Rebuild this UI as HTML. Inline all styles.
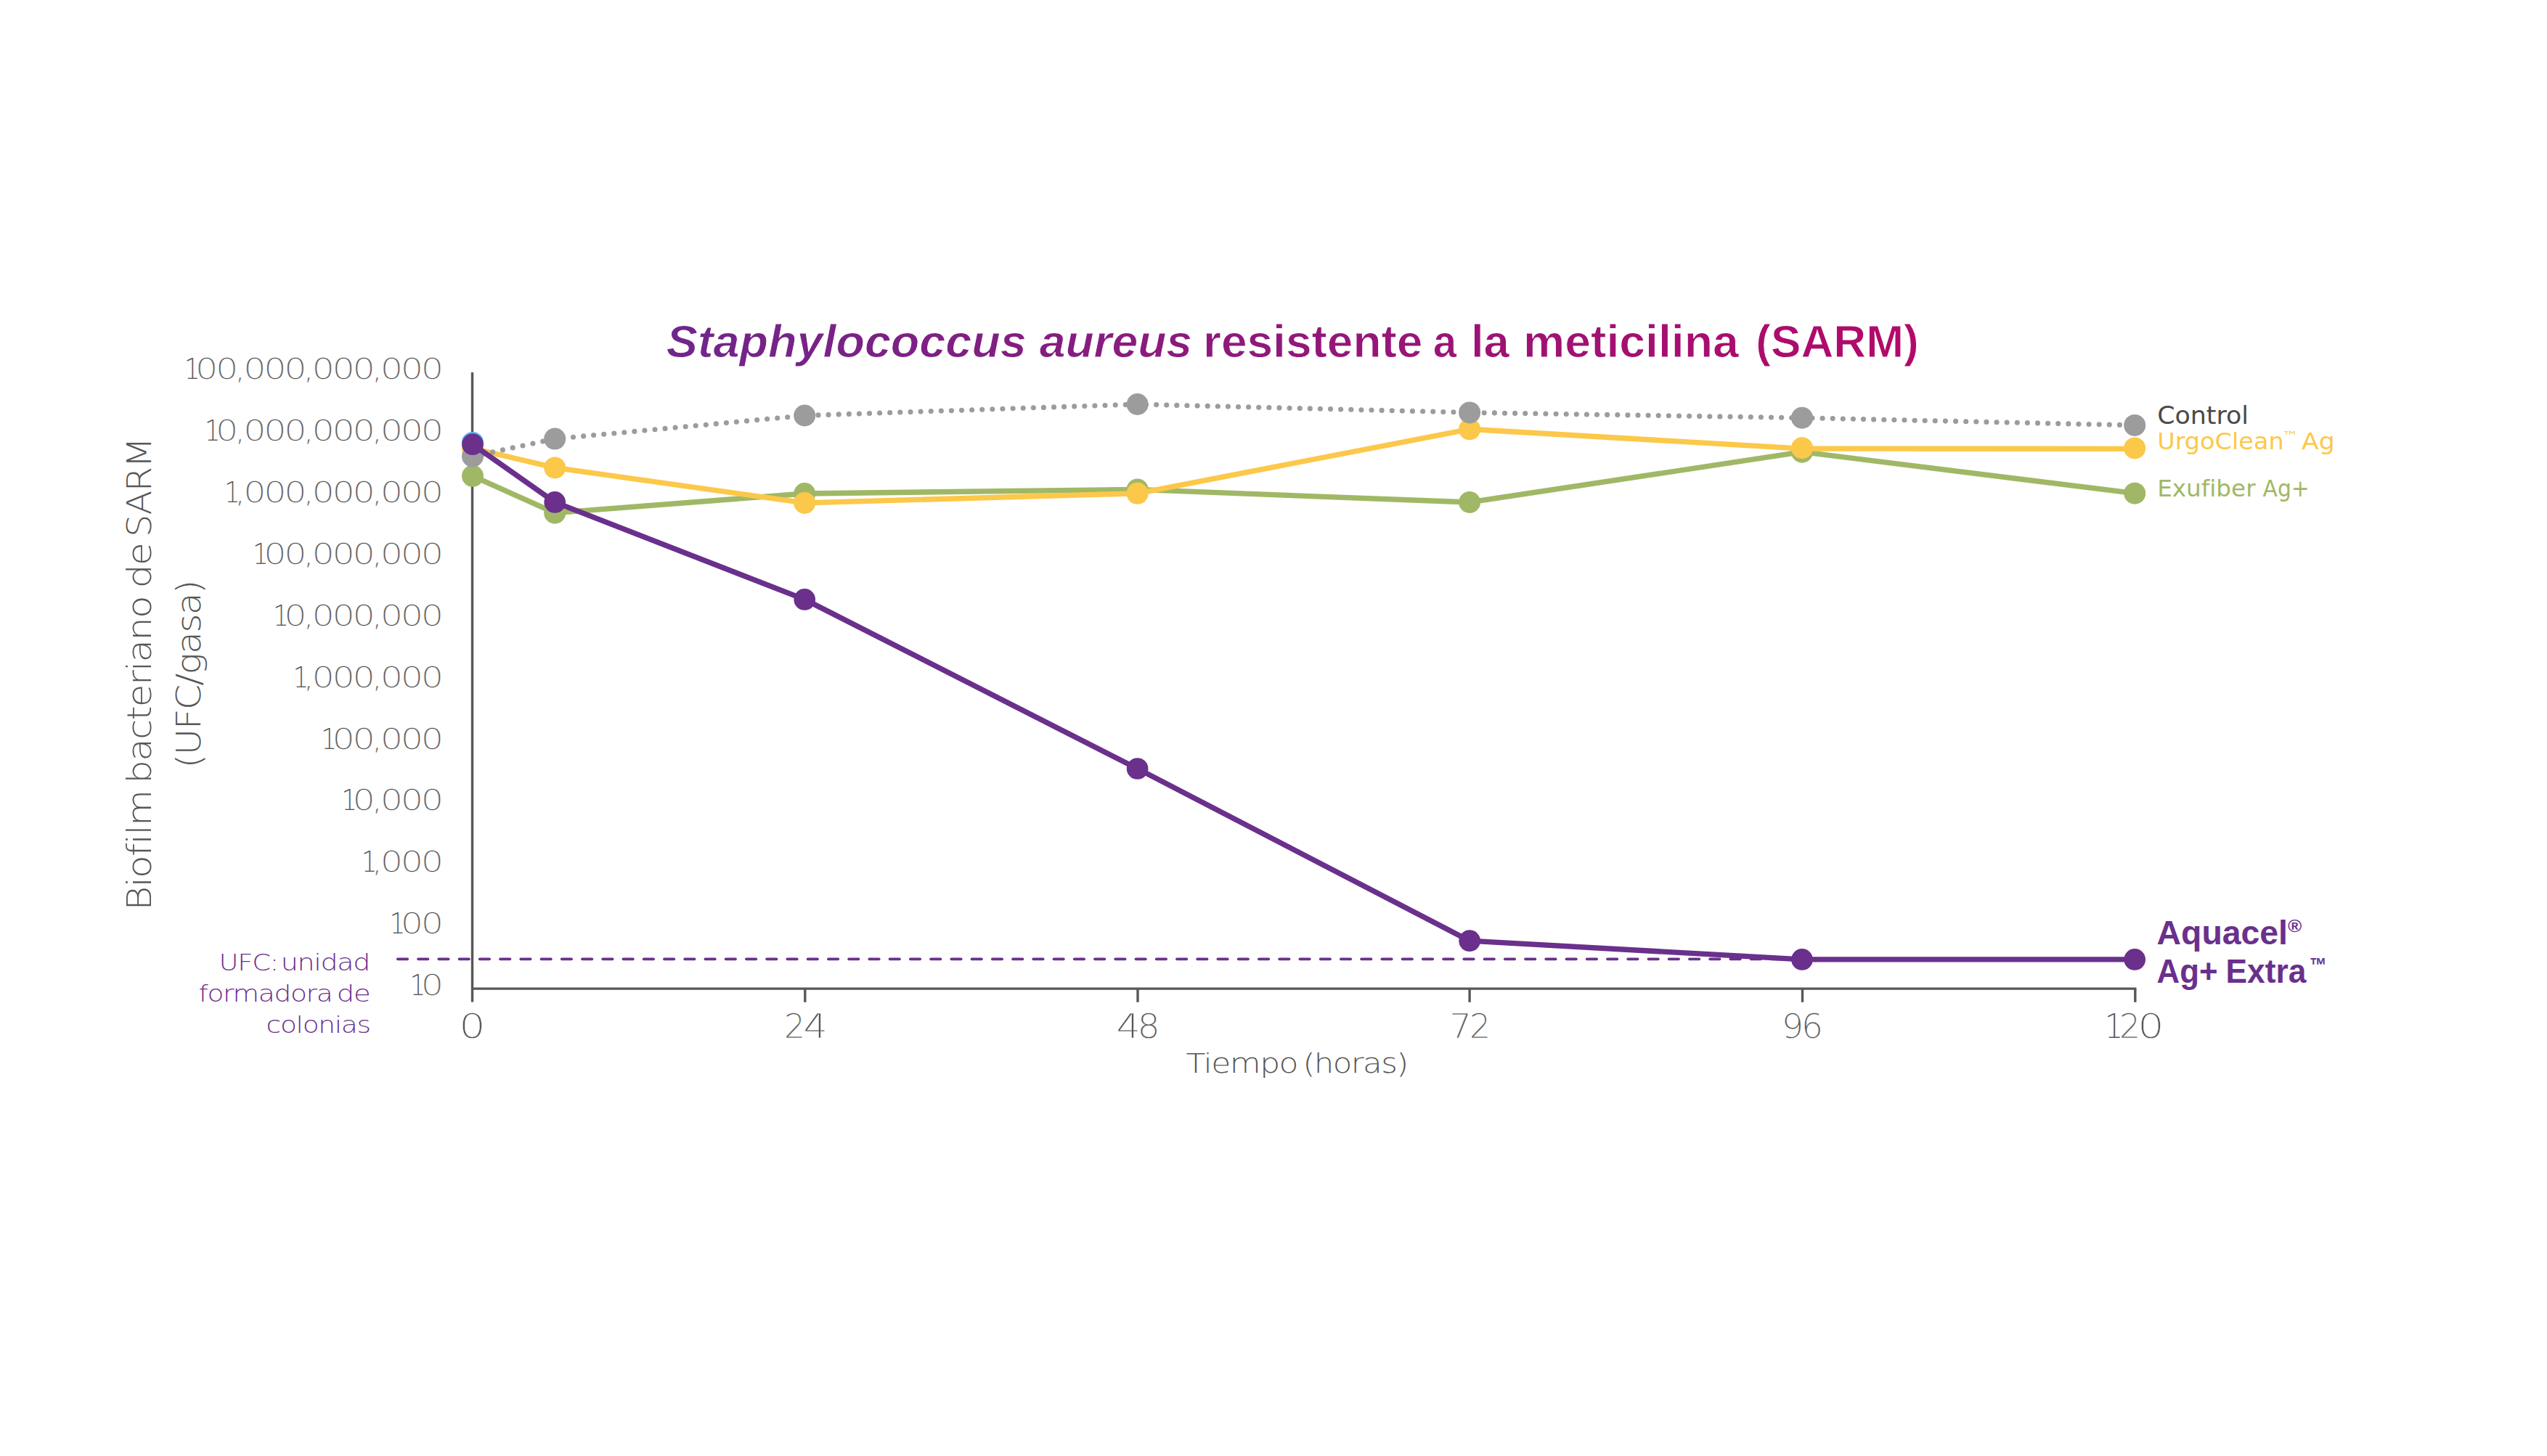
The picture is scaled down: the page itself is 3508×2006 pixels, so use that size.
<!DOCTYPE html>
<html lang="es"><head><meta charset="utf-8"><title>Staphylococcus aureus resistente a la meticilina (SARM)</title>
<style>
html,body{margin:0;padding:0;background:#fff;}
body{width:3508px;height:2006px;}
svg{display:block;}
text{white-space:pre;}
</style></head><body>
<svg width="3508" height="2006" viewBox="0 0 3508 2006">
<defs><linearGradient id="tg" gradientUnits="userSpaceOnUse" x1="919" y1="0" x2="2640" y2="0"><stop offset="0" stop-color="#70268B"/><stop offset="1" stop-color="#B3096A"/></linearGradient></defs>
<rect width="3508" height="2006" fill="#fff"/>
<g id="axes" stroke="#575756" stroke-width="3.4" fill="none"><line x1="650.5" y1="513" x2="650.5" y2="1380.6"/><line x1="650.5" y1="1362.1" x2="2942.4" y2="1362.1"/><line x1="1108.8" y1="1362.1" x2="1108.8" y2="1380.8"/><line x1="1567.0" y1="1362.1" x2="1567.0" y2="1380.8"/><line x1="2024.1" y1="1362.1" x2="2024.1" y2="1380.8"/><line x1="2482.5" y1="1362.1" x2="2482.5" y2="1380.8"/><line x1="2940.8" y1="1362.1" x2="2940.8" y2="1380.8"/></g>
<line id="thr" x1="547.8" y1="1321.3" x2="2470" y2="1321.3" stroke="#6A308C" stroke-width="3.8" stroke-linecap="round" stroke-dasharray="13.4 14.84"/>
<g id="s-grn"><polyline points="651.0,655.8 764.2,706.7 1108.2,680.0 1566.6,674.4 2024.1,692.0 2482.0,622.7 2940.2,679.7" fill="none" stroke="#A0B866" stroke-width="7.3" stroke-linejoin="round"/><g fill="#A0B866"><circle cx="651.0" cy="655.8" r="15.0"/><circle cx="764.2" cy="706.7" r="15.0"/><circle cx="1108.2" cy="680.0" r="15.0"/><circle cx="1566.6" cy="674.4" r="15.0"/><circle cx="2024.1" cy="692.0" r="15.0"/><circle cx="2482.0" cy="622.7" r="15.0"/><circle cx="2940.2" cy="679.7" r="15.0"/></g></g>
<g id="s-yel"><polyline points="651.0,617.7 764.2,644.4 1108.2,692.9 1566.6,679.8 2024.1,591.3 2482.0,618.1 2940.2,618.3" fill="none" stroke="#FCC84A" stroke-width="7.3" stroke-linejoin="round"/><g fill="#FCC84A"><circle cx="651.0" cy="617.7" r="15.0"/><circle cx="764.2" cy="644.4" r="15.0"/><circle cx="1108.2" cy="692.9" r="15.0"/><circle cx="1566.6" cy="679.8" r="15.0"/><circle cx="2024.1" cy="591.3" r="15.0"/><circle cx="2482.0" cy="617.2" r="15.0"/><circle cx="2940.2" cy="617.4" r="15.0"/></g></g>
<g id="s-ctl" fill="#9C9C9C"><g id="ctl-dots"><circle cx="651.0" cy="628.7" r="3.55"/><circle cx="664.8" cy="625.8" r="3.55"/><circle cx="678.6" cy="622.8" r="3.55"/><circle cx="692.4" cy="619.9" r="3.55"/><circle cx="706.2" cy="616.9" r="3.55"/><circle cx="720.0" cy="614.0" r="3.55"/><circle cx="733.9" cy="611.1" r="3.55"/><circle cx="747.7" cy="608.1" r="3.55"/><circle cx="761.5" cy="605.2" r="3.55"/><circle cx="775.5" cy="603.5" r="3.55"/><circle cx="789.5" cy="602.2" r="3.55"/><circle cx="803.6" cy="600.9" r="3.55"/><circle cx="817.6" cy="599.6" r="3.55"/><circle cx="831.7" cy="598.3" r="3.55"/><circle cx="845.8" cy="597.0" r="3.55"/><circle cx="859.8" cy="595.7" r="3.55"/><circle cx="873.9" cy="594.4" r="3.55"/><circle cx="887.9" cy="593.1" r="3.55"/><circle cx="902.0" cy="591.7" r="3.55"/><circle cx="916.0" cy="590.4" r="3.55"/><circle cx="930.1" cy="589.1" r="3.55"/><circle cx="944.2" cy="587.8" r="3.55"/><circle cx="958.2" cy="586.5" r="3.55"/><circle cx="972.3" cy="585.2" r="3.55"/><circle cx="986.3" cy="583.9" r="3.55"/><circle cx="1000.4" cy="582.6" r="3.55"/><circle cx="1014.4" cy="581.2" r="3.55"/><circle cx="1028.5" cy="579.9" r="3.55"/><circle cx="1042.6" cy="578.6" r="3.55"/><circle cx="1056.6" cy="577.3" r="3.55"/><circle cx="1070.7" cy="576.0" r="3.55"/><circle cx="1084.7" cy="574.7" r="3.55"/><circle cx="1098.8" cy="573.4" r="3.55"/><circle cx="1112.9" cy="572.3" r="3.55"/><circle cx="1127.0" cy="571.9" r="3.55"/><circle cx="1141.1" cy="571.4" r="3.55"/><circle cx="1155.2" cy="570.9" r="3.55"/><circle cx="1169.3" cy="570.4" r="3.55"/><circle cx="1183.4" cy="570.0" r="3.55"/><circle cx="1197.5" cy="569.5" r="3.55"/><circle cx="1211.6" cy="569.0" r="3.55"/><circle cx="1225.7" cy="568.5" r="3.55"/><circle cx="1239.8" cy="568.0" r="3.55"/><circle cx="1254.0" cy="567.6" r="3.55"/><circle cx="1268.1" cy="567.1" r="3.55"/><circle cx="1282.2" cy="566.6" r="3.55"/><circle cx="1296.3" cy="566.1" r="3.55"/><circle cx="1310.4" cy="565.7" r="3.55"/><circle cx="1324.5" cy="565.2" r="3.55"/><circle cx="1338.6" cy="564.7" r="3.55"/><circle cx="1352.7" cy="564.2" r="3.55"/><circle cx="1366.8" cy="563.8" r="3.55"/><circle cx="1380.9" cy="563.3" r="3.55"/><circle cx="1395.1" cy="562.8" r="3.55"/><circle cx="1409.2" cy="562.3" r="3.55"/><circle cx="1423.3" cy="561.8" r="3.55"/><circle cx="1437.4" cy="561.4" r="3.55"/><circle cx="1451.5" cy="560.9" r="3.55"/><circle cx="1465.6" cy="560.4" r="3.55"/><circle cx="1479.7" cy="559.9" r="3.55"/><circle cx="1493.8" cy="559.5" r="3.55"/><circle cx="1507.9" cy="559.0" r="3.55"/><circle cx="1522.0" cy="558.5" r="3.55"/><circle cx="1536.2" cy="558.0" r="3.55"/><circle cx="1550.3" cy="557.6" r="3.55"/><circle cx="1564.4" cy="557.1" r="3.55"/><circle cx="1578.5" cy="557.3" r="3.55"/><circle cx="1592.6" cy="557.6" r="3.55"/><circle cx="1606.7" cy="558.0" r="3.55"/><circle cx="1620.8" cy="558.4" r="3.55"/><circle cx="1634.9" cy="558.7" r="3.55"/><circle cx="1649.1" cy="559.1" r="3.55"/><circle cx="1663.2" cy="559.4" r="3.55"/><circle cx="1677.3" cy="559.8" r="3.55"/><circle cx="1691.4" cy="560.1" r="3.55"/><circle cx="1705.5" cy="560.5" r="3.55"/><circle cx="1719.6" cy="560.8" r="3.55"/><circle cx="1733.7" cy="561.2" r="3.55"/><circle cx="1747.9" cy="561.5" r="3.55"/><circle cx="1762.0" cy="561.9" r="3.55"/><circle cx="1776.1" cy="562.2" r="3.55"/><circle cx="1790.2" cy="562.6" r="3.55"/><circle cx="1804.3" cy="562.9" r="3.55"/><circle cx="1818.4" cy="563.3" r="3.55"/><circle cx="1832.5" cy="563.6" r="3.55"/><circle cx="1846.6" cy="564.0" r="3.55"/><circle cx="1860.8" cy="564.3" r="3.55"/><circle cx="1874.9" cy="564.7" r="3.55"/><circle cx="1889.0" cy="565.0" r="3.55"/><circle cx="1903.1" cy="565.4" r="3.55"/><circle cx="1917.2" cy="565.7" r="3.55"/><circle cx="1931.3" cy="566.1" r="3.55"/><circle cx="1945.4" cy="566.4" r="3.55"/><circle cx="1959.6" cy="566.8" r="3.55"/><circle cx="1973.7" cy="567.1" r="3.55"/><circle cx="1987.8" cy="567.5" r="3.55"/><circle cx="2001.9" cy="567.8" r="3.55"/><circle cx="2016.0" cy="568.2" r="3.55"/><circle cx="2030.1" cy="568.5" r="3.55"/><circle cx="2044.2" cy="568.7" r="3.55"/><circle cx="2058.4" cy="568.9" r="3.55"/><circle cx="2072.5" cy="569.2" r="3.55"/><circle cx="2086.6" cy="569.4" r="3.55"/><circle cx="2100.7" cy="569.6" r="3.55"/><circle cx="2114.8" cy="569.8" r="3.55"/><circle cx="2128.9" cy="570.1" r="3.55"/><circle cx="2143.1" cy="570.3" r="3.55"/><circle cx="2157.2" cy="570.5" r="3.55"/><circle cx="2171.3" cy="570.7" r="3.55"/><circle cx="2185.4" cy="571.0" r="3.55"/><circle cx="2199.5" cy="571.2" r="3.55"/><circle cx="2213.6" cy="571.4" r="3.55"/><circle cx="2227.8" cy="571.6" r="3.55"/><circle cx="2241.9" cy="571.9" r="3.55"/><circle cx="2256.0" cy="572.1" r="3.55"/><circle cx="2270.1" cy="572.3" r="3.55"/><circle cx="2284.2" cy="572.5" r="3.55"/><circle cx="2298.3" cy="572.8" r="3.55"/><circle cx="2312.5" cy="573.0" r="3.55"/><circle cx="2326.6" cy="573.2" r="3.55"/><circle cx="2340.7" cy="573.4" r="3.55"/><circle cx="2354.8" cy="573.7" r="3.55"/><circle cx="2368.9" cy="573.9" r="3.55"/><circle cx="2383.0" cy="574.1" r="3.55"/><circle cx="2397.1" cy="574.3" r="3.55"/><circle cx="2411.3" cy="574.6" r="3.55"/><circle cx="2425.4" cy="574.8" r="3.55"/><circle cx="2439.5" cy="575.0" r="3.55"/><circle cx="2453.6" cy="575.2" r="3.55"/><circle cx="2467.7" cy="575.5" r="3.55"/><circle cx="2481.8" cy="575.7" r="3.55"/><circle cx="2496.0" cy="576.0" r="3.55"/><circle cx="2510.1" cy="576.3" r="3.55"/><circle cx="2524.2" cy="576.6" r="3.55"/><circle cx="2538.3" cy="577.0" r="3.55"/><circle cx="2552.4" cy="577.3" r="3.55"/><circle cx="2566.5" cy="577.6" r="3.55"/><circle cx="2580.6" cy="577.9" r="3.55"/><circle cx="2594.8" cy="578.2" r="3.55"/><circle cx="2608.9" cy="578.5" r="3.55"/><circle cx="2623.0" cy="578.8" r="3.55"/><circle cx="2637.1" cy="579.2" r="3.55"/><circle cx="2651.2" cy="579.5" r="3.55"/><circle cx="2665.3" cy="579.8" r="3.55"/><circle cx="2679.4" cy="580.1" r="3.55"/><circle cx="2693.6" cy="580.4" r="3.55"/><circle cx="2707.7" cy="580.7" r="3.55"/><circle cx="2721.8" cy="581.0" r="3.55"/><circle cx="2735.9" cy="581.4" r="3.55"/><circle cx="2750.0" cy="581.7" r="3.55"/><circle cx="2764.1" cy="582.0" r="3.55"/><circle cx="2778.3" cy="582.3" r="3.55"/><circle cx="2792.4" cy="582.6" r="3.55"/><circle cx="2806.5" cy="582.9" r="3.55"/><circle cx="2820.6" cy="583.2" r="3.55"/><circle cx="2834.7" cy="583.6" r="3.55"/><circle cx="2848.8" cy="583.9" r="3.55"/><circle cx="2862.9" cy="584.2" r="3.55"/><circle cx="2877.1" cy="584.5" r="3.55"/><circle cx="2891.2" cy="584.8" r="3.55"/><circle cx="2905.3" cy="585.1" r="3.55"/><circle cx="2919.4" cy="585.4" r="3.55"/><circle cx="2933.5" cy="585.8" r="3.55"/></g><circle cx="651.0" cy="628.7" r="15.0"/><circle cx="764.2" cy="604.6" r="15.0"/><circle cx="1108.2" cy="572.5" r="15.0"/><circle cx="1566.6" cy="557.0" r="15.0"/><circle cx="2024.1" cy="568.4" r="15.0"/><circle cx="2482.0" cy="575.7" r="15.0"/><circle cx="2940.2" cy="585.9" r="15.0"/></g>
<circle cx="651" cy="610.1" r="15.2" fill="#5BB6F3"/>
<g id="s-pur"><polyline points="651.0,612.2 764.2,691.9 1108.2,825.9 1566.6,1059.0 2024.1,1296.2 2482.0,1321.9 2940.2,1321.9" fill="none" stroke="#6A308C" stroke-width="7.4" stroke-linejoin="round"/><g fill="#6A308C"><circle cx="651.0" cy="612.2" r="14.85"/><circle cx="764.2" cy="691.9" r="14.85"/><circle cx="1108.2" cy="825.9" r="14.85"/><circle cx="1566.6" cy="1059.0" r="14.85"/><circle cx="2024.1" cy="1296.2" r="14.85"/><circle cx="2482.0" cy="1321.9" r="14.85"/><circle cx="2940.2" cy="1321.9" r="14.85"/></g></g>
<g id="labels">
<text id="y0" y="522.10" font-family="'DejaVu Sans Light','DejaVu Sans','Liberation Sans',sans-serif" font-weight="200" font-size="39.00" fill="#575756" stroke="#fff" stroke-width="0.4"><tspan x="253.79" textLength="21.84" lengthAdjust="spacingAndGlyphs" stroke-width="0.1">1</tspan><tspan x="268.98" textLength="31.38" lengthAdjust="spacingAndGlyphs">0</tspan><tspan x="297.01" textLength="31.38" lengthAdjust="spacingAndGlyphs">0</tspan><tspan x="322.64" textLength="16.74" lengthAdjust="spacingAndGlyphs">,</tspan><tspan x="335.21" textLength="31.38" lengthAdjust="spacingAndGlyphs">0</tspan><tspan x="363.24" textLength="31.38" lengthAdjust="spacingAndGlyphs">0</tspan><tspan x="391.27" textLength="31.38" lengthAdjust="spacingAndGlyphs">0</tspan><tspan x="416.90" textLength="16.74" lengthAdjust="spacingAndGlyphs">,</tspan><tspan x="429.47" textLength="31.38" lengthAdjust="spacingAndGlyphs">0</tspan><tspan x="457.50" textLength="31.38" lengthAdjust="spacingAndGlyphs">0</tspan><tspan x="485.53" textLength="31.38" lengthAdjust="spacingAndGlyphs">0</tspan><tspan x="511.16" textLength="16.74" lengthAdjust="spacingAndGlyphs">,</tspan><tspan x="523.73" textLength="31.38" lengthAdjust="spacingAndGlyphs">0</tspan><tspan x="551.76" textLength="31.38" lengthAdjust="spacingAndGlyphs">0</tspan><tspan x="579.79" textLength="31.38" lengthAdjust="spacingAndGlyphs">0</tspan></text>
<text id="y1" y="607.00" font-family="'DejaVu Sans Light','DejaVu Sans','Liberation Sans',sans-serif" font-weight="200" font-size="39.00" fill="#575756" stroke="#fff" stroke-width="0.4"><tspan x="281.82" textLength="21.84" lengthAdjust="spacingAndGlyphs" stroke-width="0.1">1</tspan><tspan x="297.01" textLength="31.38" lengthAdjust="spacingAndGlyphs">0</tspan><tspan x="322.64" textLength="16.74" lengthAdjust="spacingAndGlyphs">,</tspan><tspan x="335.21" textLength="31.38" lengthAdjust="spacingAndGlyphs">0</tspan><tspan x="363.24" textLength="31.38" lengthAdjust="spacingAndGlyphs">0</tspan><tspan x="391.27" textLength="31.38" lengthAdjust="spacingAndGlyphs">0</tspan><tspan x="416.90" textLength="16.74" lengthAdjust="spacingAndGlyphs">,</tspan><tspan x="429.47" textLength="31.38" lengthAdjust="spacingAndGlyphs">0</tspan><tspan x="457.50" textLength="31.38" lengthAdjust="spacingAndGlyphs">0</tspan><tspan x="485.53" textLength="31.38" lengthAdjust="spacingAndGlyphs">0</tspan><tspan x="511.16" textLength="16.74" lengthAdjust="spacingAndGlyphs">,</tspan><tspan x="523.73" textLength="31.38" lengthAdjust="spacingAndGlyphs">0</tspan><tspan x="551.76" textLength="31.38" lengthAdjust="spacingAndGlyphs">0</tspan><tspan x="579.79" textLength="31.38" lengthAdjust="spacingAndGlyphs">0</tspan></text>
<text id="y2" y="691.90" font-family="'DejaVu Sans Light','DejaVu Sans','Liberation Sans',sans-serif" font-weight="200" font-size="39.00" fill="#575756" stroke="#fff" stroke-width="0.4"><tspan x="309.12" textLength="21.84" lengthAdjust="spacingAndGlyphs" stroke-width="0.1">1</tspan><tspan x="322.64" textLength="16.74" lengthAdjust="spacingAndGlyphs">,</tspan><tspan x="335.21" textLength="31.38" lengthAdjust="spacingAndGlyphs">0</tspan><tspan x="363.24" textLength="31.38" lengthAdjust="spacingAndGlyphs">0</tspan><tspan x="391.27" textLength="31.38" lengthAdjust="spacingAndGlyphs">0</tspan><tspan x="416.90" textLength="16.74" lengthAdjust="spacingAndGlyphs">,</tspan><tspan x="429.47" textLength="31.38" lengthAdjust="spacingAndGlyphs">0</tspan><tspan x="457.50" textLength="31.38" lengthAdjust="spacingAndGlyphs">0</tspan><tspan x="485.53" textLength="31.38" lengthAdjust="spacingAndGlyphs">0</tspan><tspan x="511.16" textLength="16.74" lengthAdjust="spacingAndGlyphs">,</tspan><tspan x="523.73" textLength="31.38" lengthAdjust="spacingAndGlyphs">0</tspan><tspan x="551.76" textLength="31.38" lengthAdjust="spacingAndGlyphs">0</tspan><tspan x="579.79" textLength="31.38" lengthAdjust="spacingAndGlyphs">0</tspan></text>
<text id="y3" y="776.80" font-family="'DejaVu Sans Light','DejaVu Sans','Liberation Sans',sans-serif" font-weight="200" font-size="39.00" fill="#575756" stroke="#fff" stroke-width="0.4"><tspan x="348.05" textLength="21.84" lengthAdjust="spacingAndGlyphs" stroke-width="0.1">1</tspan><tspan x="363.24" textLength="31.38" lengthAdjust="spacingAndGlyphs">0</tspan><tspan x="391.27" textLength="31.38" lengthAdjust="spacingAndGlyphs">0</tspan><tspan x="416.90" textLength="16.74" lengthAdjust="spacingAndGlyphs">,</tspan><tspan x="429.47" textLength="31.38" lengthAdjust="spacingAndGlyphs">0</tspan><tspan x="457.50" textLength="31.38" lengthAdjust="spacingAndGlyphs">0</tspan><tspan x="485.53" textLength="31.38" lengthAdjust="spacingAndGlyphs">0</tspan><tspan x="511.16" textLength="16.74" lengthAdjust="spacingAndGlyphs">,</tspan><tspan x="523.73" textLength="31.38" lengthAdjust="spacingAndGlyphs">0</tspan><tspan x="551.76" textLength="31.38" lengthAdjust="spacingAndGlyphs">0</tspan><tspan x="579.79" textLength="31.38" lengthAdjust="spacingAndGlyphs">0</tspan></text>
<text id="y4" y="861.70" font-family="'DejaVu Sans Light','DejaVu Sans','Liberation Sans',sans-serif" font-weight="200" font-size="39.00" fill="#575756" stroke="#fff" stroke-width="0.4"><tspan x="376.08" textLength="21.84" lengthAdjust="spacingAndGlyphs" stroke-width="0.1">1</tspan><tspan x="391.27" textLength="31.38" lengthAdjust="spacingAndGlyphs">0</tspan><tspan x="416.90" textLength="16.74" lengthAdjust="spacingAndGlyphs">,</tspan><tspan x="429.47" textLength="31.38" lengthAdjust="spacingAndGlyphs">0</tspan><tspan x="457.50" textLength="31.38" lengthAdjust="spacingAndGlyphs">0</tspan><tspan x="485.53" textLength="31.38" lengthAdjust="spacingAndGlyphs">0</tspan><tspan x="511.16" textLength="16.74" lengthAdjust="spacingAndGlyphs">,</tspan><tspan x="523.73" textLength="31.38" lengthAdjust="spacingAndGlyphs">0</tspan><tspan x="551.76" textLength="31.38" lengthAdjust="spacingAndGlyphs">0</tspan><tspan x="579.79" textLength="31.38" lengthAdjust="spacingAndGlyphs">0</tspan></text>
<text id="y5" y="946.60" font-family="'DejaVu Sans Light','DejaVu Sans','Liberation Sans',sans-serif" font-weight="200" font-size="39.00" fill="#575756" stroke="#fff" stroke-width="0.4"><tspan x="403.38" textLength="21.84" lengthAdjust="spacingAndGlyphs" stroke-width="0.1">1</tspan><tspan x="416.90" textLength="16.74" lengthAdjust="spacingAndGlyphs">,</tspan><tspan x="429.47" textLength="31.38" lengthAdjust="spacingAndGlyphs">0</tspan><tspan x="457.50" textLength="31.38" lengthAdjust="spacingAndGlyphs">0</tspan><tspan x="485.53" textLength="31.38" lengthAdjust="spacingAndGlyphs">0</tspan><tspan x="511.16" textLength="16.74" lengthAdjust="spacingAndGlyphs">,</tspan><tspan x="523.73" textLength="31.38" lengthAdjust="spacingAndGlyphs">0</tspan><tspan x="551.76" textLength="31.38" lengthAdjust="spacingAndGlyphs">0</tspan><tspan x="579.79" textLength="31.38" lengthAdjust="spacingAndGlyphs">0</tspan></text>
<text id="y6" y="1031.50" font-family="'DejaVu Sans Light','DejaVu Sans','Liberation Sans',sans-serif" font-weight="200" font-size="39.00" fill="#575756" stroke="#fff" stroke-width="0.4"><tspan x="442.31" textLength="21.84" lengthAdjust="spacingAndGlyphs" stroke-width="0.1">1</tspan><tspan x="457.50" textLength="31.38" lengthAdjust="spacingAndGlyphs">0</tspan><tspan x="485.53" textLength="31.38" lengthAdjust="spacingAndGlyphs">0</tspan><tspan x="511.16" textLength="16.74" lengthAdjust="spacingAndGlyphs">,</tspan><tspan x="523.73" textLength="31.38" lengthAdjust="spacingAndGlyphs">0</tspan><tspan x="551.76" textLength="31.38" lengthAdjust="spacingAndGlyphs">0</tspan><tspan x="579.79" textLength="31.38" lengthAdjust="spacingAndGlyphs">0</tspan></text>
<text id="y7" y="1116.40" font-family="'DejaVu Sans Light','DejaVu Sans','Liberation Sans',sans-serif" font-weight="200" font-size="39.00" fill="#575756" stroke="#fff" stroke-width="0.4"><tspan x="470.34" textLength="21.84" lengthAdjust="spacingAndGlyphs" stroke-width="0.1">1</tspan><tspan x="485.53" textLength="31.38" lengthAdjust="spacingAndGlyphs">0</tspan><tspan x="511.16" textLength="16.74" lengthAdjust="spacingAndGlyphs">,</tspan><tspan x="523.73" textLength="31.38" lengthAdjust="spacingAndGlyphs">0</tspan><tspan x="551.76" textLength="31.38" lengthAdjust="spacingAndGlyphs">0</tspan><tspan x="579.79" textLength="31.38" lengthAdjust="spacingAndGlyphs">0</tspan></text>
<text id="y8" y="1201.30" font-family="'DejaVu Sans Light','DejaVu Sans','Liberation Sans',sans-serif" font-weight="200" font-size="39.00" fill="#575756" stroke="#fff" stroke-width="0.4"><tspan x="497.64" textLength="21.84" lengthAdjust="spacingAndGlyphs" stroke-width="0.1">1</tspan><tspan x="511.16" textLength="16.74" lengthAdjust="spacingAndGlyphs">,</tspan><tspan x="523.73" textLength="31.38" lengthAdjust="spacingAndGlyphs">0</tspan><tspan x="551.76" textLength="31.38" lengthAdjust="spacingAndGlyphs">0</tspan><tspan x="579.79" textLength="31.38" lengthAdjust="spacingAndGlyphs">0</tspan></text>
<text id="y9" y="1286.20" font-family="'DejaVu Sans Light','DejaVu Sans','Liberation Sans',sans-serif" font-weight="200" font-size="39.00" fill="#575756" stroke="#fff" stroke-width="0.4"><tspan x="536.57" textLength="21.84" lengthAdjust="spacingAndGlyphs" stroke-width="0.1">1</tspan><tspan x="551.76" textLength="31.38" lengthAdjust="spacingAndGlyphs">0</tspan><tspan x="579.79" textLength="31.38" lengthAdjust="spacingAndGlyphs">0</tspan></text>
<text id="y10" y="1371.10" font-family="'DejaVu Sans Light','DejaVu Sans','Liberation Sans',sans-serif" font-weight="200" font-size="39.00" fill="#575756" stroke="#fff" stroke-width="0.4"><tspan x="564.60" textLength="21.84" lengthAdjust="spacingAndGlyphs" stroke-width="0.1">1</tspan><tspan x="579.79" textLength="31.38" lengthAdjust="spacingAndGlyphs">0</tspan></text>
<text id="x0" y="1430.00" font-family="'DejaVu Sans Light','DejaVu Sans','Liberation Sans',sans-serif" font-weight="200" font-size="45.50" fill="#575756" stroke="#fff" stroke-width="0.35"><tspan x="632.28" textLength="36.43" lengthAdjust="spacingAndGlyphs">0</tspan></text>
<text id="x1" y="1430.00" font-family="'DejaVu Sans Light','DejaVu Sans','Liberation Sans',sans-serif" font-weight="200" font-size="45.50" fill="#575756" stroke="#fff" stroke-width="0.35"><tspan x="1079.94" textLength="29.03" lengthAdjust="spacingAndGlyphs">2</tspan><tspan x="1106.64" textLength="33.35" lengthAdjust="spacingAndGlyphs">4</tspan></text>
<text id="x2" y="1430.00" font-family="'DejaVu Sans Light','DejaVu Sans','Liberation Sans',sans-serif" font-weight="200" font-size="45.50" fill="#575756" stroke="#fff" stroke-width="0.35"><tspan x="1537.54" textLength="33.35" lengthAdjust="spacingAndGlyphs">4</tspan><tspan x="1566.49" textLength="31.15" lengthAdjust="spacingAndGlyphs">8</tspan></text>
<text id="x3" y="1430.00" font-family="'DejaVu Sans Light','DejaVu Sans','Liberation Sans',sans-serif" font-weight="200" font-size="45.50" fill="#575756" stroke="#fff" stroke-width="0.35"><tspan x="1996.16" textLength="30.56" lengthAdjust="spacingAndGlyphs">7</tspan><tspan x="2023.92" textLength="29.17" lengthAdjust="spacingAndGlyphs">2</tspan></text>
<text id="x4" y="1430.00" font-family="'DejaVu Sans Light','DejaVu Sans','Liberation Sans',sans-serif" font-weight="200" font-size="45.50" fill="#575756" stroke="#fff" stroke-width="0.35"><tspan x="2453.66" textLength="30.40" lengthAdjust="spacingAndGlyphs">9</tspan><tspan x="2481.12" textLength="29.98" lengthAdjust="spacingAndGlyphs">6</tspan></text>
<text id="x5" y="1430.00" font-family="'DejaVu Sans Light','DejaVu Sans','Liberation Sans',sans-serif" font-weight="200" font-size="45.50" fill="#575756" stroke="#fff" stroke-width="0.35"><tspan x="2898.75" textLength="25.47" lengthAdjust="spacingAndGlyphs" stroke-width="0.1">1</tspan><tspan x="2918.94" textLength="29.03" lengthAdjust="spacingAndGlyphs">2</tspan><tspan x="2944.38" textLength="36.43" lengthAdjust="spacingAndGlyphs">0</tspan></text>
</g>
<g id="texts">
<text x="917.80" y="491.90" id="t1" font-family="'Liberation Sans','DejaVu Sans',sans-serif" font-weight="700" font-size="62.20" fill="url(#tg)" font-style="italic" stroke="#fff" stroke-width="0.9" textLength="495.98" lengthAdjust="spacingAndGlyphs">Staphylococcus</text>
<text x="1431.80" y="491.90" id="t2" font-family="'Liberation Sans','DejaVu Sans',sans-serif" font-weight="700" font-size="62.20" fill="url(#tg)" font-style="italic" stroke="#fff" stroke-width="0.9" textLength="210.23" lengthAdjust="spacingAndGlyphs">aureus</text>
<text x="1657.00" y="491.90" id="t3" font-family="'Liberation Sans','DejaVu Sans',sans-serif" font-weight="700" font-size="62.20" fill="url(#tg)" stroke="#fff" stroke-width="0.9" textLength="302.41" lengthAdjust="spacingAndGlyphs">resistente</text>
<text x="1973.80" y="491.90" id="t4" font-family="'Liberation Sans','DejaVu Sans',sans-serif" font-weight="700" font-size="62.20" fill="url(#tg)" stroke="#fff" stroke-width="0.9" textLength="32.43" lengthAdjust="spacingAndGlyphs">a</text>
<text x="2026.00" y="491.90" id="t5" font-family="'Liberation Sans','DejaVu Sans',sans-serif" font-weight="700" font-size="62.20" fill="url(#tg)" stroke="#fff" stroke-width="0.9" textLength="52.87" lengthAdjust="spacingAndGlyphs">la</text>
<text x="2098.00" y="491.90" id="t6" font-family="'Liberation Sans','DejaVu Sans',sans-serif" font-weight="700" font-size="62.20" fill="url(#tg)" stroke="#fff" stroke-width="0.9" textLength="296.69" lengthAdjust="spacingAndGlyphs">meticilina</text>
<text x="2418.20" y="491.90" id="t7" font-family="'Liberation Sans','DejaVu Sans',sans-serif" font-weight="700" font-size="62.20" fill="url(#tg)" stroke="#fff" stroke-width="0.9" textLength="224.54" lengthAdjust="spacingAndGlyphs">(SARM)</text>
<text x="1633.60" y="1477.70" id="xt1" font-family="'DejaVu Sans Light','DejaVu Sans','Liberation Sans',sans-serif" font-weight="200" font-size="37.90" fill="#575756" letter-spacing="-0.035em" textLength="153.34" lengthAdjust="spacingAndGlyphs">Tiempo</text>
<text x="1794.40" y="1477.70" id="xt2" font-family="'DejaVu Sans Light','DejaVu Sans','Liberation Sans',sans-serif" font-weight="200" font-size="37.90" fill="#575756" letter-spacing="-0.035em" textLength="144.24" lengthAdjust="spacingAndGlyphs">(horas)</text>
<text transform="translate(208.40 1254.80) rotate(-90)" x="0" y="0" id="yt1a" font-family="'DejaVu Sans Light','DejaVu Sans','Liberation Sans',sans-serif" font-weight="200" font-size="45.50" fill="#575756" letter-spacing="-0.035em" textLength="165.40" lengthAdjust="spacingAndGlyphs">Biofilm</text>
<text transform="translate(208.40 1079.70) rotate(-90)" x="0" y="0" id="yt1b" font-family="'DejaVu Sans Light','DejaVu Sans','Liberation Sans',sans-serif" font-weight="200" font-size="45.50" fill="#575756" letter-spacing="-0.035em" textLength="257.46" lengthAdjust="spacingAndGlyphs">bacteriano</text>
<text transform="translate(208.40 810.60) rotate(-90)" x="0" y="0" id="yt1c" font-family="'DejaVu Sans Light','DejaVu Sans','Liberation Sans',sans-serif" font-weight="200" font-size="45.50" fill="#575756" letter-spacing="-0.035em" textLength="61.70" lengthAdjust="spacingAndGlyphs">de</text>
<text transform="translate(208.40 740.00) rotate(-90)" x="0" y="0" id="yt1d" font-family="'DejaVu Sans Light','DejaVu Sans','Liberation Sans',sans-serif" font-weight="200" font-size="45.50" fill="#575756" letter-spacing="-0.035em" textLength="136.27" lengthAdjust="spacingAndGlyphs">SARM</text>
<text transform="translate(276.10 1058.40) rotate(-90)" x="0" y="0" id="yt2" font-family="'DejaVu Sans Light','DejaVu Sans','Liberation Sans',sans-serif" font-weight="200" font-size="45.30" fill="#575756" letter-spacing="-0.035em" textLength="258.19" lengthAdjust="spacingAndGlyphs">(UFC/gasa)</text>
<text x="301.60" y="1337.00" id="u1a" font-family="'DejaVu Sans Light','DejaVu Sans','Liberation Sans',sans-serif" font-weight="200" font-size="32.50" fill="#6A308C" letter-spacing="-0.035em" textLength="81.38" lengthAdjust="spacingAndGlyphs">UFC:</text>
<text x="386.80" y="1337.00" id="u1b" font-family="'DejaVu Sans Light','DejaVu Sans','Liberation Sans',sans-serif" font-weight="200" font-size="32.50" fill="#6A308C" letter-spacing="-0.035em" textLength="122.32" lengthAdjust="spacingAndGlyphs">unidad</text>
<text x="273.60" y="1380.20" id="u2a" font-family="'DejaVu Sans Light','DejaVu Sans','Liberation Sans',sans-serif" font-weight="200" font-size="32.50" fill="#6A308C" letter-spacing="-0.035em" textLength="183.75" lengthAdjust="spacingAndGlyphs">formadora</text>
<text x="463.80" y="1380.20" id="u2b" font-family="'DejaVu Sans Light','DejaVu Sans','Liberation Sans',sans-serif" font-weight="200" font-size="32.50" fill="#6A308C" letter-spacing="-0.035em" textLength="45.48" lengthAdjust="spacingAndGlyphs">de</text>
<text x="366.60" y="1422.50" id="u3" font-family="'DejaVu Sans Light','DejaVu Sans','Liberation Sans',sans-serif" font-weight="200" font-size="32.50" fill="#6A308C" letter-spacing="-0.035em" textLength="143.12" lengthAdjust="spacingAndGlyphs">colonias</text>
<text x="2971.20" y="583.60" id="l1" font-family="'DejaVu Sans','Liberation Sans',sans-serif" font-weight="400" font-size="32.80" fill="#4A4A49" textLength="125.84" lengthAdjust="spacingAndGlyphs">Control</text>
<text x="2971.20" y="619.40" id="l2a" font-family="'DejaVu Sans','Liberation Sans',sans-serif" font-weight="400" font-size="32.00" fill="#FCC84A" textLength="174.44" lengthAdjust="spacingAndGlyphs">UrgoClean</text>
<text x="3143.40" y="606.30" id="l2b" font-family="'DejaVu Sans','Liberation Sans',sans-serif" font-weight="400" font-size="16.25" fill="#FCC84A" textLength="21.65" lengthAdjust="spacingAndGlyphs">™</text>
<text x="3170.00" y="619.40" id="l2c" font-family="'DejaVu Sans','Liberation Sans',sans-serif" font-weight="400" font-size="32.00" fill="#FCC84A" textLength="45.68" lengthAdjust="spacingAndGlyphs">Ag</text>
<text x="2971.20" y="683.60" id="l3a" font-family="'DejaVu Sans','Liberation Sans',sans-serif" font-weight="400" font-size="32.00" fill="#A0B866" textLength="135.38" lengthAdjust="spacingAndGlyphs">Exufiber</text>
<text x="3116.60" y="683.60" id="l3b" font-family="'DejaVu Sans','Liberation Sans',sans-serif" font-weight="400" font-size="32.00" fill="#A0B866" textLength="64.13" lengthAdjust="spacingAndGlyphs">Ag+</text>
<text x="2970.60" y="1300.80" id="a1" font-family="'Liberation Sans','DejaVu Sans',sans-serif" font-weight="700" font-size="46.00" fill="#6A308C" textLength="180.38" lengthAdjust="spacingAndGlyphs">Aquacel</text>
<text x="3151.00" y="1283.60" id="a1r" font-family="'Liberation Sans','DejaVu Sans',sans-serif" font-weight="700" font-size="24.62" fill="#6A308C" textLength="19.21" lengthAdjust="spacingAndGlyphs">®</text>
<text x="2970.60" y="1353.70" id="a2a" font-family="'Liberation Sans','DejaVu Sans',sans-serif" font-weight="700" font-size="46.00" fill="#6A308C" textLength="83.88" lengthAdjust="spacingAndGlyphs">Ag+</text>
<text x="3065.60" y="1353.70" id="a2b" font-family="'Liberation Sans','DejaVu Sans',sans-serif" font-weight="700" font-size="46.00" fill="#6A308C" textLength="110.70" lengthAdjust="spacingAndGlyphs">Extra</text>
<text x="3181.00" y="1338.90" id="a2t" font-family="'Liberation Sans','DejaVu Sans',sans-serif" font-weight="700" font-size="27.50" fill="#6A308C" textLength="23.50" lengthAdjust="spacingAndGlyphs">™</text>
</g>
</svg></body></html>
